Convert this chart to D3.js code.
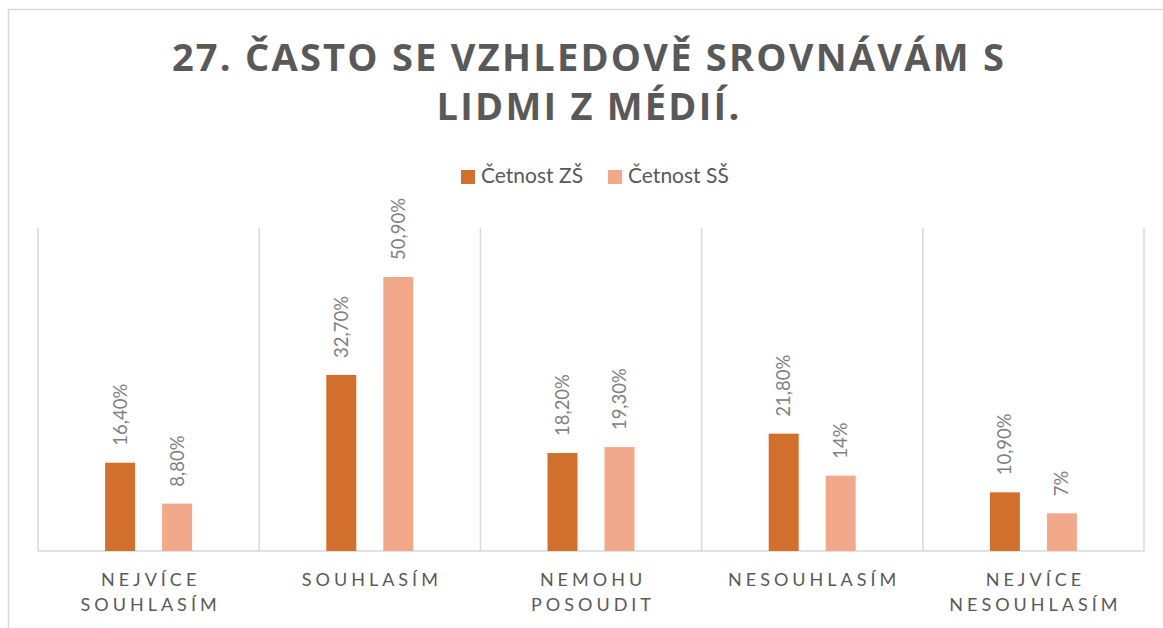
<!DOCTYPE html>
<html>
<head>
<meta charset="utf-8">
<script src="https://cdn.jsdelivr.net/npm/d3@7"></script>
<style>
  body { margin: 0; background: #fff; }
  svg { display: block; }
</style>
</head>
<body>
<div id="chart"></div>
<script>
const categories = [
  ['NEJVÍCE', 'SOUHLASÍM'],
  ['SOUHLASÍM'],
  ['NEMOHU', 'POSOUDIT'],
  ['NESOUHLASÍM'],
  ['NEJVÍCE', 'NESOUHLASÍM']
];
const seriesNames = ['Četnost ZŠ', 'Četnost SŠ'];
const valuesZS = [16.4, 32.7, 18.2, 21.8, 10.9];
const valuesSS = [8.8, 50.9, 19.3, 14, 7];
const labelsZS = ['16,40%', '32,70%', '18,20%', '21,80%', '10,90%'];
const labelsSS = ['8,80%', '50,90%', '19,30%', '14%', '7%'];
const titleLines = ['27. ČASTO SE VZHLEDOVĚ SROVNÁVÁM S', 'LIDMI Z MÉDIÍ.'];

const colors = ['#d36f2c', '#f2a88a'];
const width = 1163, height = 628;
const plot = { left: 38, right: 1144, top: 228, bottom: 551 };

const svg = d3.select('#chart').append('svg')
  .attr('width', width)
  .attr('height', height);

// chart border
svg.append('rect')
  .attr('x', 8.5).attr('y', 9.5)
  .attr('width', 1170).attr('height', 640)
  .attr('fill', 'none')
  .attr('stroke', '#d9d9d9')
  .attr('stroke-width', 1.5);

// title
const titleCenter = 589;
const title = svg.append('g');
const t1 = title.append('text')
  .attr('x', titleCenter).attr('y', 71)
  .attr('text-anchor', 'middle')
  .attr('font-family', 'Open Sans')
  .attr('font-weight', 700)
  .attr('font-size', 38)
  .attr('fill', '#595959')
  .text(titleLines[0]);
// spread letters so line one spans like the reference
const natural = t1.node().getComputedTextLength();
const spacing = (832 - natural) / (titleLines[0].length - 1);
t1.attr('letter-spacing', spacing);
title.append('text')
  .attr('x', titleCenter).attr('y', 120)
  .attr('text-anchor', 'middle')
  .attr('font-family', 'Open Sans')
  .attr('font-weight', 700)
  .attr('font-size', 38)
  .attr('letter-spacing', spacing)
  .attr('fill', '#595959')
  .text(titleLines[1]);

// legend
const legend = svg.append('g');
let lx = 461;
seriesNames.forEach((name, i) => {
  legend.append('rect')
    .attr('x', lx).attr('y', 170)
    .attr('width', 14).attr('height', 14)
    .attr('fill', colors[i]);
  const txt = legend.append('text')
    .attr('x', lx + 20).attr('y', 183)
    .attr('font-family', 'Lato')
    .attr('font-size', 21)
    .attr('fill', '#595959')
    .text(name);
  lx += 20 + txt.node().getComputedTextLength() + 25;
});

// scales
const x0 = d3.scaleBand()
  .domain(d3.range(categories.length))
  .range([plot.left, plot.right])
  .padding(0);

const x1 = d3.scaleBand()
  .domain([0, 1])
  .range([0, x0.bandwidth()])
  .paddingInner(0.474)
  .paddingOuter(1.177);

const y = d3.scaleLinear()
  .domain([0, 60])
  .range([plot.bottom, plot.top]);

// category separators
const grid = svg.append('g')
  .attr('stroke', '#d9d9d9')
  .attr('stroke-width', 1.5);
d3.range(categories.length + 1).forEach(i => {
  const gx = i < categories.length ? x0(i) : x0.range()[1];
  grid.append('line')
    .attr('x1', gx).attr('x2', gx)
    .attr('y1', y(60)).attr('y2', y(0));
});
grid.append('line')
  .attr('x1', plot.left).attr('x2', plot.right)
  .attr('y1', y(0)).attr('y2', y(0));

// bars + labels
const series = [
  { values: valuesZS, labels: labelsZS },
  { values: valuesSS, labels: labelsSS }
];
const bars = svg.append('g');
series.forEach((s, si) => {
  const data = s.values.map((v, ci) => ({ v, ci, label: s.labels[ci] }));
  bars.selectAll('rect.s' + si)
    .data(data)
    .enter()
    .append('rect')
    .attr('class', 's' + si)
    .attr('x', d => x0(d.ci) + x1(si))
    .attr('y', d => y(d.v))
    .attr('width', x1.bandwidth())
    .attr('height', d => y(0) - y(d.v))
    .attr('fill', colors[si]);

  bars.selectAll('text.s' + si)
    .data(data)
    .enter()
    .append('text')
    .attr('class', 's' + si)
    .attr('transform', d => {
      const cx = x0(d.ci) + x1(si) + x1.bandwidth() / 2;
      return 'translate(' + cx + ',' + (y(d.v) - 17) + ') rotate(-90)';
    })
    .attr('dy', '0.35em')
    .attr('font-family', 'Lato')
    .attr('font-size', 18.5)
    .attr('fill', '#808080')
    .text(d => d.label);
});

// category labels
const catG = svg.append('g');
categories.forEach((lines, ci) => {
  const cx = x0(ci) + x0.bandwidth() / 2;
  lines.forEach((line, li) => {
    catG.append('text')
      .attr('x', cx + 2)
      .attr('y', 586 + li * 25)
      .attr('text-anchor', 'middle')
      .attr('font-family', 'Lato')
      .attr('font-size', 18)
      .attr('letter-spacing', 4)
      .attr('fill', '#595959')
      .text(line);
  });
});
</script>
</body>
</html>
